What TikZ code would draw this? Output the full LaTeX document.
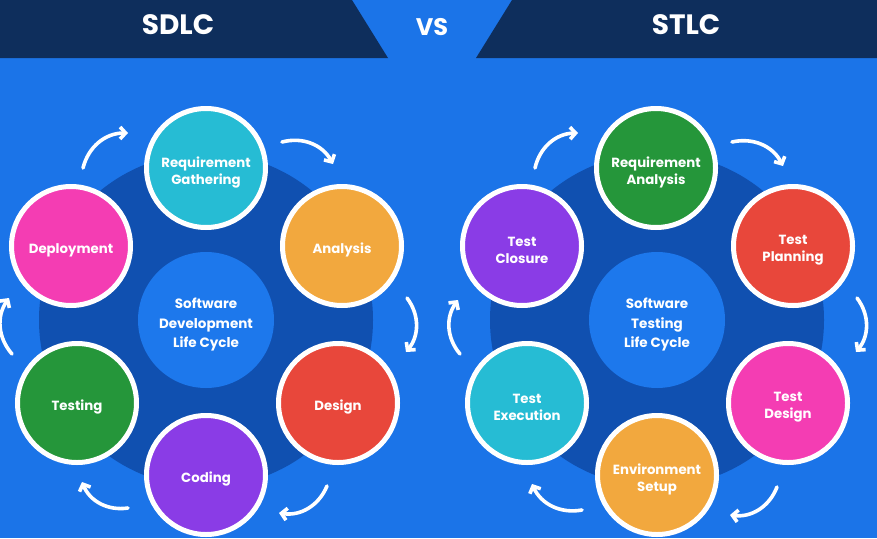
\documentclass[tikz,border=0pt]{standalone}
\usepackage{fontspec}
\setmainfont{Poppins}
\usetikzlibrary{arrows.meta}
\definecolor{bgblue}{HTML}{1B74E8}
\definecolor{navy}{HTML}{0E2E5C}
\definecolor{halo}{HTML}{1050B0}
\definecolor{corebl}{HTML}{1D78EC}
\definecolor{cteal}{HTML}{26BCD4}
\definecolor{corange}{HTML}{F2A83E}
\definecolor{cred}{HTML}{E8473B}
\definecolor{cpurple}{HTML}{8A3CE6}
\definecolor{cgreen}{HTML}{25963A}
\definecolor{cpink}{HTML}{F43DB3}
\tikzset{
  hdr/.style={text=white, font=\fontsize{28}{30}\selectfont\bfseries, inner sep=0pt},
  vslabel/.style={text=white, font=\fontsize{24}{26}\selectfont\bfseries, inner sep=0pt},
  stage/.style={circle, draw=white, line width=5pt, minimum size=119pt, inner sep=0pt},
  stagetext/.style={align=center, text=white, inner sep=0pt, yshift=-4pt,
    font=\fontsize{13.3}{17}\selectfont\bfseries},
  core/.style={circle, fill=corebl, minimum size=136pt, inner sep=0pt},
  coretext/.style={align=center, text=white, inner sep=0pt, yshift=-4.5pt,
    font=\fontsize{13.5}{19.5}\selectfont\bfseries},
  cyc/.style={draw=white, line width=3.6pt, line cap=round,
    -{Straight Barb[length=5.5pt,width=12pt,line width=3.6pt]}, bend left=38}
}
\begin{document}
\begin{tikzpicture}[x=1pt,y=-1pt]
\useasboundingbox (0,0) rectangle (877,538);
\begin{scope}
\clip (0,0) rectangle (877,538);
\fill[bgblue] (0,0) rectangle (877,538);
% header
\fill[navy] (0,0) -- (352,0) -- (388,58) -- (0,58) -- cycle;
\fill[navy] (512,0) -- (877,0) -- (877,58) -- (476,58) -- cycle;
\node[hdr] (sdlc) at (178,25) {SDLC};
\node[vslabel] (vs) at (432,27) {VS};
\node[hdr] (stlc) at (686,25) {STLC};

% ---------- SDLC ----------
\fill[halo] (206,320) circle (167);
\node[core, label={[coretext]center:{Software\\Development\\Life Cycle}}] (sdcore) at (206,320) {};
\node[stage, fill=cteal,   label={[stagetext]center:{Requirement\\Gathering}}] (sreq)  at (206,168) {};
\node[stage, fill=corange, label={[stagetext]center:{Analysis}}]   (sana)  at (342,246) {};
\node[stage, fill=cred,    label={[stagetext]center:{Design}}]     (sdes)  at (338,403) {};
\node[stage, fill=cpurple, label={[stagetext]center:{Coding}}]     (scod)  at (206,475) {};
\node[stage, fill=cgreen,  label={[stagetext]center:{Testing}}]    (stest) at (77,403)  {};
\node[stage, fill=cpink,   label={[stagetext]center:{Deployment}}] (sdep)  at (71,246)  {};

\coordinate (sa1) at (282,142); \coordinate (sb1) at (333,164);
\coordinate (sa2) at (407,298); \coordinate (sb2) at (406,352);
\coordinate (sa3) at (327,486); \coordinate (sb3) at (279,513);
\coordinate (sa4) at (128,508); \coordinate (sb4) at (82,482);
\coordinate (sa5) at (12,354);  \coordinate (sb5) at (9,298);
\coordinate (sa6) at (83,168);  \coordinate (sb6) at (128,133);
\foreach \i in {1,...,6} {\draw[cyc] (sa\i) to (sb\i);}

% ---------- STLC ----------
\fill[halo] (657,320) circle (167);
\node[core, label={[coretext]center:{Software\\Testing\\Life Cycle}}] (stcore) at (657,320) {};
\node[stage, fill=cgreen,  label={[stagetext]center:{Requirement\\Analysis}}] (treq)  at (656,168) {};
\node[stage, fill=cred,    label={[stagetext]center:{Test\\Planning}}]        (tplan) at (793,246) {};
\node[stage, fill=cpink,   label={[stagetext]center:{Test\\Design}}]          (tdes)  at (788,403) {};
\node[stage, fill=corange, label={[stagetext]center:{Environment\\Setup}}]    (tenv)  at (657,475) {};
\node[stage, fill=cteal,   label={[stagetext]center:{Test\\Execution}}]       (texe)  at (527,403) {};
\node[stage, fill=cpurple, label={[stagetext]center:{Test\\Closure}}]         (tclo)  at (522,246) {};

\coordinate (ta1) at (732,142); \coordinate (tb1) at (783,166);
\coordinate (ta2) at (857,298); \coordinate (tb2) at (856,352);
\coordinate (ta3) at (777,487); \coordinate (tb3) at (730,515);
\coordinate (ta4) at (582,510); \coordinate (tb4) at (532,484);
\coordinate (ta5) at (460,354); \coordinate (tb5) at (458,300);
\coordinate (ta6) at (535,168); \coordinate (tb6) at (578,133);
\foreach \i in {1,...,6} {\draw[cyc] (ta\i) to (tb\i);}
\end{scope}
\end{tikzpicture}
\end{document}
